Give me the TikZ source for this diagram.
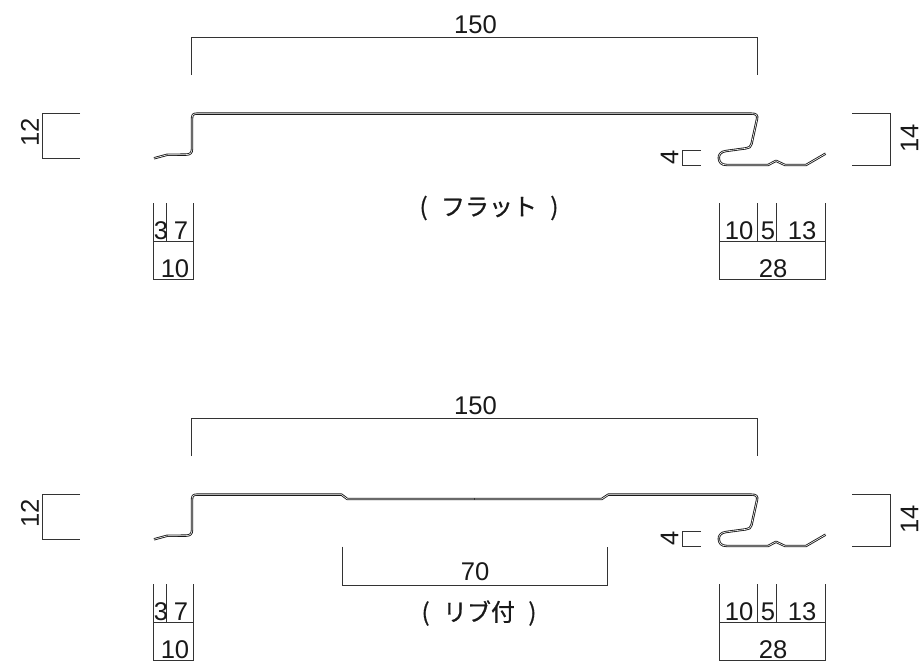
\documentclass[tikz,border=0pt]{standalone}
\usepackage{fontspec}
\setmainfont{Liberation Sans}
\newfontfamily\jpfont[FakeBold=0.8]{Noto Sans CJK JP}
\newcommand{\Fs}{\fontsize{19.2pt}{21pt}\selectfont}
\newcommand{\Fj}{\fontsize{18pt}{21pt}\selectfont\jpfont}
\newcommand{\sheet}[1]{%
  \draw[sheetline] (154,158.3) -- (167,154.8) -- (186,154.6)
    .. controls (190,154.6) and (192,153) .. (192,149) -- (192,119)
    .. controls (192,115) and (193,113.6) .. (197,113.6)
    #1 -- (751,113.6)
    .. controls (756,113.6) and (758,115) .. (757,119) -- (751.5,144)
    .. controls (751,147) and (749,148) .. (746,148.3) -- (726,151)
    .. controls (721,151.6) and (718.6,154.5) .. (718.8,158)
    .. controls (719,162) and (721,165) .. (727,165) -- (768,165)
    -- (776,160.8) -- (785,165) -- (806,165) -- (825.6,153.6);
}
\newcommand{\dimset}[1]{%
  % overall width
  \coordinate (#1wa) at (191,75); \coordinate (#1wb) at (191,37);
  \coordinate (#1wc) at (757.5,37); \coordinate (#1wd) at (757.5,75);
  \draw[dimline] (#1wa) -- (#1wb) -- (#1wc) -- (#1wd);
  \node[lbl] (#1w) at (475.5,24.5) {150};
  % left height
  \coordinate (#1la) at (80,113); \coordinate (#1lb) at (42,113);
  \coordinate (#1lc) at (42,158); \coordinate (#1ld) at (80,158);
  \draw[dimline] (#1la) -- (#1lb) -- (#1lc) -- (#1ld);
  \node[lbl,rotate=90] (#1l) at (30,132.5) {12};
  % right height
  \coordinate (#1ra) at (852,113); \coordinate (#1rb) at (890,113);
  \coordinate (#1rc) at (890,165.6); \coordinate (#1rd) at (852,165.6);
  \draw[dimline] (#1ra) -- (#1rb) -- (#1rc) -- (#1rd);
  \node[lbl,rotate=90] (#1r) at (909.5,138.5) {14};
  % hook height
  \coordinate (#1ha) at (701,150.4); \coordinate (#1hb) at (682,150.4);
  \coordinate (#1hc) at (682,165.6); \coordinate (#1hd) at (701,165.6);
  \draw[dimline] (#1ha) -- (#1hb) -- (#1hc) -- (#1hd);
  \node[lbl,rotate=90] (#1h) at (669.5,157) {4};
  % lower left
  \coordinate (#1a1) at (153.5,203); \coordinate (#1a2) at (153.5,279);
  \coordinate (#1a3) at (166.7,203); \coordinate (#1a4) at (166.7,241);
  \coordinate (#1a5) at (193.5,203); \coordinate (#1a6) at (193.5,279);
  \coordinate (#1a7) at (153.5,241); \coordinate (#1a8) at (193.5,241);
  \draw[dimline] (#1a1) -- (#1a2) -- (#1a6) -- (#1a5) (#1a3) -- (#1a4) (#1a7) -- (#1a8);
  \node[lbl] (#1t3) at (161,230.5) {3};
  \node[lbl] (#1t7) at (181,230.5) {7};
  \node[lbl] (#1t10) at (175,268.5) {10};
  % lower right
  \coordinate (#1b1) at (719.7,203); \coordinate (#1b2) at (719.7,279);
  \coordinate (#1b3) at (757.5,203); \coordinate (#1b4) at (757.5,241);
  \coordinate (#1b5) at (776.3,203); \coordinate (#1b6) at (776.3,241);
  \coordinate (#1b7) at (825.7,203); \coordinate (#1b8) at (825.7,279);
  \coordinate (#1b9) at (719.7,241); \coordinate (#1b0) at (825.7,241);
  \draw[dimline] (#1b1) -- (#1b2) -- (#1b8) -- (#1b7) (#1b3) -- (#1b4) (#1b5) -- (#1b6) (#1b9) -- (#1b0);
  \node[lbl] (#1u10) at (739,230.5) {10};
  \node[lbl] (#1u5) at (768,230.5) {5};
  \node[lbl] (#1u13) at (802,230.5) {13};
  \node[lbl] (#1u28) at (773,268.5) {28};
}
\tikzset{
  x=0.75pt,y=-0.75pt,
  dimline/.style={draw=black!80,line width=0.6pt},
  sheetline/.style={draw=black!90,line width=0.65pt,double=white,double distance=0.45pt,line join=round},
  lbl/.style={inner sep=0pt,outer sep=0pt,text=black!90,font=\Fs},
  jplbl/.style={inner sep=0pt,outer sep=0pt,text=black!90,font=\Fj},
}
\begin{document}
\begin{tikzpicture}
\useasboundingbox (0,0) rectangle (921,669);
% flat panel
\sheet{}
\dimset{f}
\node[jplbl] (flatname) at (489,208) {(\hspace{10pt}フラット\hspace{10pt})};
% ribbed panel
\begin{scope}[shift={(0,381)}]
  \sheet{-- (341.5,113.6) -- (347.3,118) -- (601.7,118) -- (608.3,113.6)}
  \coordinate (ticka) at (474,117); \coordinate (tickb) at (474,119);
  \draw[dimline] (ticka) -- (tickb);
  \dimset{g}
\end{scope}
\coordinate (ra) at (342,546.7); \coordinate (rb) at (342,585);
\coordinate (rc) at (607,585); \coordinate (rd) at (607,546.7);
\draw[dimline] (ra) -- (rb) -- (rc) -- (rd);
\node[lbl] (ribw) at (475,572) {70};
\node[jplbl] (ribname) at (479,613) {(\hspace{10pt}リブ付\hspace{10pt})};
\end{tikzpicture}
\end{document}
